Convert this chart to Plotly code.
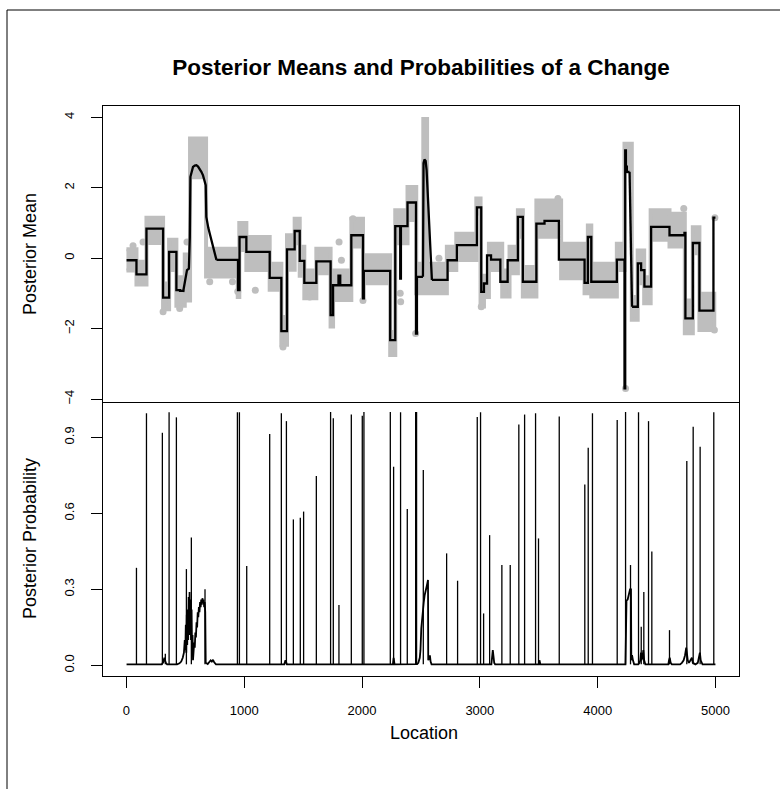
import plotly.graph_objects as go

# ---------------- data ----------------
# Posterior mean, piecewise-constant parts (value holds until next x; None = break)
step_x = [1, 85, 170, 311, 362, 424, 455, 481, None,
          764, 947, 960, 1018, 1216, 1315, 1363, 1428, 1471, 1510, 1612, 1733, 1754, 1800,
          1815, 1909, 2008, 2015, 2239, 2282, 2324, 2330, 2386, 2458, 2466, 2517, None,
          2593, 2726, 2805, 2975, 3012, 3035, 3061, 3095, 3174, 3236, 3323, 3365, 3480,
          3549, 3671, 3889, 3917, 3946, 4163, 4228, 4234, 4240, 4248, 4271, None,
          4292, 4341, 4369, 4397, 4454, 4610, 4737, 4745, 4808, 4864, 4983, 5000]
step_y = [-0.06, -0.46, 0.84, -1.12, 0.18, -0.91, -0.93, -0.96, None,
          -0.05, -0.91, 0.60, 0.18, -0.56, -2.07, 0.25, 0.77, -0.08, -0.70, -0.09, -1.62,
          -0.77, -0.50, -0.77, 0.65, -1.14, -0.36, -2.33, 0.91, -0.58, 0.91, 1.58, -2.14,
          -0.53, -0.53, None,
          -0.62, -0.06, 0.37, 1.44, -0.96, -0.72, 0.08, -0.04, -0.67, -0.06, 1.17, -0.67,
          0.98, 1.06, -0.04, -0.70, 0.60, -0.67, -0.04, -3.70, 3.06, 2.60, 2.45, 2.45, None,
          -1.38, -0.15, -0.34, -0.81, 0.89, 0.65, 0.72, -1.71, 0.43, -1.49, 1.15, 1.15]

# Posterior mean, smooth parts (drawn as straight segments between readings)
curve_x = [481, 490, 500, 514, 530, 538, 543, 555, 565, 580, 594, 608, 622, 636, 650, 662,
           673, 678, 686, 695, 707, 720, 735, 750, 764, None,
           2517, 2522, 2530, 2540, 2548, 2593, None,
           4271, 4292]
curve_y = [-0.96, -0.80, -0.60, -0.34, -0.30, 0.60, 2.31, 2.47, 2.59, 2.63, 2.64, 2.60, 2.54,
           2.45, 2.35, 2.20, 2.07, 1.17, 1.00, 0.86, 0.70, 0.52, 0.32, 0.14, -0.05, None,
           -0.53, 2.70, 2.80, 2.76, 2.50, -0.62, None,
           2.45, -1.38]

# Observed data cloud (dense part): blocks (start, end, low, high)
band_x0 = [0, 85, 170, 311, 362, 424, 495, 540, 676, 945, 958, 1018, 1216, 1315, 1363,
           1428, 1471, 1510, 1612, 1733, 1754, 1909, 2008, 2015, 2239, 2282, 2386, 2460,
           2520, 2552, 2720, 2800, 2970, 3006, 3035, 3077, 3190, 3252, 3323, 3365, 3480,
           3690, 3889, 3917, 3946, 4163, 4228, 4290, 4340, 4395, 4450, 4610, 4740, 4808,
           4864]
band_x1 = [85, 170, 311, 362, 424, 495, 540, 676, 945, 958, 1018, 1216, 1315, 1363, 1428,
           1471, 1510, 1612, 1733, 1754, 1909, 2008, 2015, 2239, 2282, 2386, 2460, 2520,
           2552, 2720, 2800, 2970, 3006, 3035, 3077, 3190, 3252, 3323, 3365, 3480, 3690,
           3889, 3917, 3946, 4163, 4228, 4290, 4340, 4395, 4450, 4610, 4740, 4808, 4864,
           4990]
band_lo = [-0.35, -0.75, 0.43, -1.45, -0.34, -1.35, -1.20, 2.30, -0.52, -1.10, 0.23, -0.34,
           -0.90, -2.46, -0.33, 0.42, -0.50, -1.14, -0.43, -1.94, -1.19, 0.33, -1.10, -0.71,
           -2.75, 0.42, 1.08, -1.00, 3.26, -1.00, -0.34, -0.05, 1.27, -1.37, -1.10, -0.34,
           -1.09, -0.43, 0.61, -1.09, 0.61, -0.57, -1.00, 0.33, -1.09, -0.34, 2.45, -1.75,
           -0.71, -1.28, 0.52, 0.33, -2.13, 0.14, -2.04]
band_hi = [0.25, -0.10, 1.15, -0.72, 0.52, -0.54, 0.10, 3.40, 0.27, 0.10, 1.00, 0.60,
           -0.16, -1.67, 0.65, 1.12, 0.32, -0.35, 0.27, -1.39, -0.35, 1.12, 0.00, 0.08,
           -2.10, 1.36, 2.02, -0.16, 3.95, -0.16, 0.32, 0.69, 1.69, -0.91, -0.50, 0.41,
           -0.35, 0.32, 1.36, -0.25, 1.64, 0.41, -0.54, 0.93, -0.16, 0.41, 3.25, -1.10,
           0.22, -0.54, 1.36, 1.26, -1.20, 0.88, -1.01]

# Isolated / edge observations
out_x = [56, 141, 311, 452, 514, 707, 900, 945, 1094, 1329, 1556, 1805, 1825, 1923, 2008,
         2324, 2328, 2455, 2653, 3012, 3663, 4237, 4731, 4991, 4995]
out_y = [0.35, 0.46, -1.52, -1.43, 0.46, -0.67, -0.67, -0.95, -0.91, -2.52, -1.10, 0.46,
         -0.06, 1.12, -1.20, -1.00, -1.24, -2.14, 0.00, -1.38, 1.69, -3.70, 1.41, -2.04,
         1.15]

# Posterior probability of a change: sharp spikes (location, probability)
spike_x = [85, 170, 305, 330, 362, 424, 509, 551, 667, 942, 959, 1021, 1216, 1315, 1358,
           1417, 1476, 1504, 1612, 1733, 1756, 1804, 1909, 2002, 2016, 2240, 2268, 2327,
           2384, 2455, 2463, 2520, 2718, 2811, 2978, 3006, 3032, 3083, 3187, 3258, 3331,
           3380, 3473, 3498, 3674, 3891, 3920, 3956, 4166, 4237, 4279, 4347, 4370, 4392,
           4432, 4460, 4610, 4757, 4811, 4870, 4986]
spike_p = [0.385, 0.995, 0.918, 0.046, 0.999, 0.979, 0.38, 0.505, 0.30, 0.999, 0.999, 0.392,
           0.913, 0.995, 0.964, 0.576, 0.583, 0.607, 0.747, 1.0, 0.975, 0.238, 0.99, 0.985,
           1.0, 1.0, 0.784, 0.999, 0.617, 1.0, 1.0, 0.771, 0.442, 0.334, 0.98, 0.999, 0.205,
           0.514, 0.396, 0.396, 0.951, 0.99, 0.995, 0.501, 0.982, 0.714, 0.859, 0.995, 0.968,
           1.0, 0.396, 0.999, 0.152, 0.29, 0.964, 0.449, 0.139, 0.807, 0.942, 0.863, 0.999]

# Posterior probability: background curve (broad bumps)
prob_x = [1, 300, 312, 322, 334, 345, 430, 450, 465, 478, 488, 495, 500, 504, 508, 512, 516,
          520, 524, 528, 532, 536, 540, 544, 548, 553, 557, 561, 565, 570, 575, 580, 585, 590,
          595, 600, 605, 610, 615, 620, 625, 630, 635, 640, 645, 650, 655, 660, 664, 669, 673,
          690, 705, 715, 725, 735, 745, 760, 1340, 1350, 1362, 2262, 2268, 2276, 2468, 2478,
          2490, 2496, 2503, 2510, 2517, 2524, 2532, 2540, 2548, 2555, 2560, 2562, 2570, 2576,
          2582, 2590, 3098, 3105, 3110, 3115, 3122, 3130, 3500, 3506, 3514, 4236, 4240, 4245,
          4255, 4265, 4275, 4283, 4286, 4292, 4300, 4310, 4345, 4355, 4362, 4368, 4372, 4380,
          4388, 4395, 4405, 4600, 4606, 4612, 4620, 4630, 4700, 4715, 4730, 4742, 4752, 4758,
          4765, 4775, 4790, 4800, 4808, 4830, 4850, 4862, 4868, 4875, 4890, 5000]
prob_y = [0.004, 0.004, 0.012, 0.03, 0.01, 0.004, 0.004, 0.008, 0.015, 0.03, 0.05, 0.10,
          0.06, 0.16, 0.05, 0.20, 0.08, 0.22, 0.10, 0.27, 0.12, 0.29, 0.14, 0.26, 0.10, 0.22,
          0.05, 0.12, 0.02, 0.06, 0.09, 0.07, 0.13, 0.11, 0.17, 0.15, 0.21, 0.19, 0.23, 0.21,
          0.25, 0.23, 0.26, 0.24, 0.265, 0.25, 0.26, 0.23, 0.25, 0.21, 0.01, 0.005, 0.012,
          0.02, 0.015, 0.022, 0.012, 0.004, 0.004, 0.02, 0.004, 0.004, 0.03, 0.004, 0.005,
          0.01, 0.03, 0.06, 0.146, 0.19, 0.22, 0.25, 0.278, 0.29, 0.31, 0.325, 0.337, 0.02,
          0.03, 0.04, 0.015, 0.004, 0.004, 0.03, 0.06, 0.04, 0.01, 0.004, 0.004, 0.02, 0.004,
          0.004, 0.20, 0.255, 0.26, 0.28, 0.30, 0.30, 0.02, 0.04, 0.02, 0.004, 0.004, 0.01,
          0.02, 0.05, 0.02, 0.03, 0.06, 0.02, 0.004, 0.004, 0.02, 0.03, 0.01, 0.004, 0.004,
          0.01, 0.02, 0.04, 0.07, 0.04, 0.02, 0.01, 0.02, 0.03, 0.01, 0.004, 0.01, 0.03, 0.05,
          0.02, 0.004, 0.004]

x_ticks = [0, 1000, 2000, 3000, 4000, 5000]
mean_ticks = [-4, -2, 0, 2, 4]
prob_ticks = [0.0, 0.3, 0.6, 0.9]
prob_tick_text = ["0.0", "0.3", "0.6", "0.9"]

# ---------------- layout geometry ----------------
W, H = 780, 789
ML, MR, MT, MB = 103, 41, 106, 113
PW = W - ML - MR
PH = H - MT - MB
SPLIT = 274 / PH
FONT = "Liberation Sans, Arial, Helvetica, sans-serif"
GRAY = "#BEBEBE"


def pxx(px):
    return (px - ML) / PW


def pxy(py):
    return (H - MB - py) / PH


# band polygon built from the blocks
poly_x, poly_y = [], []
for a, b, hi in zip(band_x0, band_x1, band_hi):
    poly_x += [a, b]
    poly_y += [hi, hi]
for a, b, lo in reversed(list(zip(band_x0, band_x1, band_lo))):
    poly_x += [b, a]
    poly_y += [lo, lo]

spk_x, spk_y = [], []
for sx, sp in zip(spike_x, spike_p):
    spk_x += [sx, sx, None]
    spk_y += [0.004, sp, None]

fig = go.Figure()
fig.add_trace(go.Scatter(x=poly_x, y=poly_y, fill="toself", fillcolor=GRAY,
                         line=dict(color=GRAY, width=4), mode="lines",
                         xaxis="x", yaxis="y", hoverinfo="skip", showlegend=False))
fig.add_trace(go.Scatter(x=out_x, y=out_y, mode="markers",
                         marker=dict(color=GRAY, size=7), xaxis="x", yaxis="y",
                         showlegend=False))
fig.add_trace(go.Scatter(x=step_x, y=step_y, mode="lines", connectgaps=False,
                         line=dict(color="black", width=2.3, shape="hv"),
                         xaxis="x", yaxis="y", showlegend=False))
fig.add_trace(go.Scatter(x=curve_x, y=curve_y, mode="lines", connectgaps=False,
                         line=dict(color="black", width=2.3),
                         xaxis="x", yaxis="y", showlegend=False))
fig.add_trace(go.Scatter(x=prob_x, y=prob_y, mode="lines",
                         line=dict(color="black", width=1.8),
                         xaxis="x2", yaxis="y2", showlegend=False))
fig.add_trace(go.Scatter(x=spk_x, y=spk_y, mode="lines",
                         line=dict(color="black", width=1.3),
                         xaxis="x2", yaxis="y2", showlegend=False))

axis_common = dict(showline=True, linecolor="black", linewidth=1,
                   showgrid=False, zeroline=False,
                   tickfont=dict(family=FONT, size=13, color="black"))

fig.update_layout(
    width=W, height=H,
    margin=dict(l=ML, r=MR, t=MT, b=MB),
    paper_bgcolor="white", plot_bgcolor="white",
    showlegend=False,
    title=dict(text="<b>Posterior Means and Probabilities of a Change</b>",
               x=pxx(421), xref="paper", xanchor="center",
               y=1 - 67 / H, yref="container", yanchor="middle",
               font=dict(family=FONT, size=22.5, color="black")),
    xaxis=dict(domain=[0, 1], anchor="y", range=[-199, 5200], showticklabels=False,
               ticks="", mirror=True, **axis_common),
    yaxis=dict(domain=[SPLIT, 1], anchor="x", range=[-4.085, 4.32], mirror=True,
               tickvals=mean_ticks, ticks="outside", ticklen=11, tickcolor="black",
               tickangle=-90, ticklabelstandoff=12, **axis_common),
    xaxis2=dict(domain=[0, 1], anchor="y2", range=[-199, 5200], tickvals=x_ticks,
                mirror=False, ticks="outside", ticklen=11, tickcolor="black",
                ticklabelstandoff=11, **axis_common),
    yaxis2=dict(domain=[0, SPLIT], anchor="x2", range=[-0.042, 1.0395], mirror=True,
                tickvals=prob_ticks, ticktext=prob_tick_text, ticks="outside",
                ticklen=11, tickcolor="black", tickangle=-90, ticklabelstandoff=12,
                **axis_common),
    annotations=[
        dict(text="Posterior Mean", x=pxx(30), y=pxy(254), xref="paper", yref="paper",
             xanchor="center", yanchor="middle", textangle=-90, showarrow=False,
             font=dict(family=FONT, size=18, color="black")),
        dict(text="Posterior Probability", x=pxx(30), y=pxy(539), xref="paper",
             yref="paper", xanchor="center", yanchor="middle", textangle=-90,
             showarrow=False, font=dict(family=FONT, size=18, color="black")),
        dict(text="Location", x=pxx(424), y=pxy(733), xref="paper", yref="paper",
             xanchor="center", yanchor="middle", showarrow=False,
             font=dict(family=FONT, size=18, color="black")),
    ],
    shapes=[
        dict(type="line", xref="paper", yref="paper", x0=pxx(7), x1=pxx(7),
             y0=pxy(10), y1=pxy(800), line=dict(color="black", width=1)),
        dict(type="line", xref="paper", yref="paper", x0=pxx(7), x1=pxx(800),
             y0=pxy(10), y1=pxy(10), line=dict(color="black", width=1)),
    ],
)

fig.write_html("out.html", config={"displayModeBar": False},
               post_script="document.body.style.margin='0';document.body.style.overflow='hidden';")
